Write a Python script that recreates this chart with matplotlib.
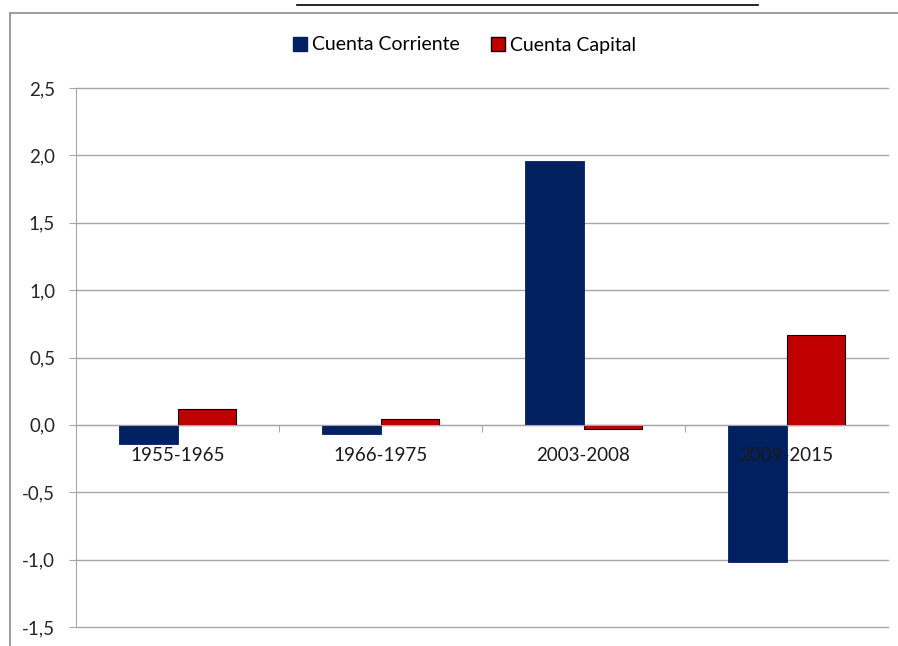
import numpy as np
import matplotlib.pyplot as plt
from matplotlib.patches import Rectangle
from matplotlib.lines import Line2D

# Data
periods = ["1955-1965", "1966-1975", "2003-2008", "2009-2015"]
cuenta_corriente = [-0.14, -0.07, 1.96, -1.02]
cuenta_capital = [0.12, 0.045, -0.03, 0.67]
yticks = [-1.5, -1.0, -0.5, 0.0, 0.5, 1.0, 1.5, 2.0, 2.5]

navy = "#002060"
red = "#C00000"
grid_gray = "#A6A6A6"

plt.rcParams['font.family'] = ['Lato', 'DejaVu Sans']

fig = plt.figure(figsize=(8.98, 6.46), dpi=100)
ax = fig.add_axes([76 / 898, 1 - 627 / 646, (888 - 76) / 898, (627 - 88) / 646])

x = np.arange(len(periods))
w = 0.286
ax.bar(x - w / 2, cuenta_corriente, w, color=navy, edgecolor=navy, linewidth=0.6,
       label="Cuenta Corriente", zorder=2)
ax.bar(x + w / 2, cuenta_capital, w, color=red, edgecolor="black", linewidth=0.8,
       label="Cuenta Capital", zorder=2)

# gridlines drawn manually so the axis labels can sit on top of bars
for v in yticks:
    ax.axhline(v, color=grid_gray, lw=1.0, zorder=0, clip_on=False)

ax.set_axisbelow(False)
ax.set_xlim(-0.5, len(periods) - 0.5)
ax.set_ylim(-1.5, 2.5)
ax.set_yticks(yticks)
ax.set_yticklabels([f"{v:.1f}".replace('.', ',') for v in yticks])
ax.tick_params(axis='y', length=5, color=grid_gray, labelsize=13.5, pad=10,
               labelcolor="#262626")

ax.spines['bottom'].set_position(('data', 0))
ax.spines['bottom'].set_color(grid_gray)
ax.spines['left'].set_color(grid_gray)
ax.spines['top'].set_visible(False)
ax.spines['right'].set_visible(False)

ax.set_xticks(x[:-1] + 0.5)
ax.set_xticklabels([])
ax.set_xticks(x, minor=True)
ax.set_xticklabels(periods, minor=True)
ax.tick_params(axis='x', which='major', length=5, color=grid_gray)
ax.tick_params(axis='x', which='minor', length=0, labelsize=13.5, pad=16,
               labelcolor="#1a1a1a")

handles = [Line2D([], [], marker='s', ls='none', markersize=10, color=navy,
                  markeredgecolor=navy),
           Line2D([], [], marker='s', ls='none', markersize=10, color=red,
                  markeredgecolor='black')]
fig.legend(handles, ["Cuenta Corriente", "Cuenta Capital"], loc='center',
           bbox_to_anchor=(464 / 898, 1 - 45 / 646), ncol=2, frameon=False,
           fontsize=14, handletextpad=0.2, columnspacing=1.6, handlelength=0.8)

# outer chart border and the clipped title underline
fig.add_artist(Rectangle((10 / 898, -0.1), 1.2, 1 - 13 / 646 + 0.1,
                         transform=fig.transFigure, fill=False,
                         edgecolor="#8C8C8C", lw=1.2))
fig.add_artist(Line2D([297 / 898, 758 / 898], [1 - 5 / 646, 1 - 5 / 646],
                      transform=fig.transFigure, color="black", lw=1.2))

fig.savefig("out.png", dpi=100)
